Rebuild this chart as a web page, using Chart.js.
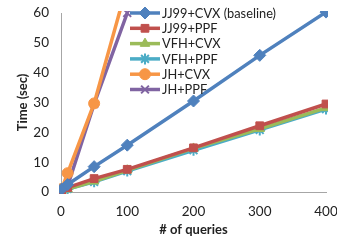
<!DOCTYPE html>
<html><head><meta charset="utf-8">
<script src="https://cdn.jsdelivr.net/npm/chart.js@4/dist/chart.umd.min.js"></script>
<style>html,body{margin:0;padding:0;background:#fff}#w{width:337px;height:243px}</style>
</head><body><div id="w"><canvas id="c" width="337" height="243"></canvas></div>
<script>
const queries = [1, 10, 50, 100, 200, 300, 400];
const seriesNames = ["JJ99+CVX (baseline)", "JJ99+PPF", "VFH+CVX", "VFH+PPF", "JH+CVX", "JH+PPF"];
const jj99Cvx = [1, 2.5, 8.5, 15.7, 30.5, 45.8, 60.3];
const jj99Ppf = [0.6, 1.5, 4.5, 7.6, 14.8, 22.2, 29.5];
const vfhCvx = [0.1, 1.0, 3.6, 7.3, 14.6, 21.2, 28.2];
const vfhPpf = [0.2, 1.0, 3.4, 7.0, 14.0, 20.8, 27.8];
const jhCvx = [1.0, 6.3, 29.7, 69.5];
const jhPpf = [0.3, 2.0, 29.5, 60.0];
const yTicks = [0, 10, 20, 30, 40, 50, 60];
const xTicks = [0, 100, 200, 300, 400];
const yTitle = "Time (sec)";
const xTitle = "# of queries";

const colors = ["#4F81BD", "#C0504D", "#9BBB59", "#4BACC6", "#F79646", "#8064A2"];
const styles = ["rectRot", "rect", "triangle", "star", "circle", "crossRot"];
const radii = [6, 5.5, 5.5, 5.5, 5.5, 5.5];
const values = [jj99Cvx, jj99Ppf, vfhCvx, vfhPpf, jhCvx, jhPpf];
const FONT = "Lato, 'Open Sans', sans-serif";

const datasets = values.map((v, i) => ({
  label: seriesNames[i],
  data: v.map((y, k) => ({x: queries[k], y: y})),
  borderColor: colors[i],
  backgroundColor: colors[i],
  borderWidth: 3.5,
  pointStyle: styles[i],
  pointRadius: radii[i],
  pointBorderWidth: (styles[i] === "star" || styles[i] === "crossRot") ? 2 : 1,
  pointBorderColor: colors[i],
  pointBackgroundColor: colors[i],
  tension: 0,
  clip: 2
}));

const legendPlugin = {
  id: "lineLegend",
  afterDraw(chart) {
    const ctx = chart.ctx;
    const x0 = 130, x1 = 160, y0 = 13, dy = 15.3;
    ctx.save();
    chart.data.datasets.forEach((ds, i) => {
      const y = y0 + i * dy;
      ctx.strokeStyle = ds.borderColor;
      ctx.lineWidth = 3.5;
      ctx.beginPath(); ctx.moveTo(x0, y); ctx.lineTo(x1, y); ctx.stroke();
      ctx.fillStyle = ds.backgroundColor;
      ctx.strokeStyle = ds.borderColor;
      ctx.lineWidth = ds.pointBorderWidth;
      Chart.helpers.drawPoint(ctx, {pointStyle: ds.pointStyle, radius: ds.pointRadius, rotation: 0, borderWidth: ds.pointBorderWidth}, (x0 + x1) / 2, y);
      ctx.fillStyle = "#222";
      ctx.font = "12.8px " + FONT;
      ctx.textBaseline = "middle";
      ctx.textAlign = "left";
      ctx.fillText(ds.label, x1 + 2, y + 0.5);
    });
    // y axis title
    const a = chart.chartArea;
    ctx.translate(23, (a.top + a.bottom) / 2);
    ctx.rotate(-Math.PI / 2);
    ctx.fillStyle = "#222";
    ctx.font = "bold 13px " + FONT;
    ctx.textAlign = "center";
    ctx.textBaseline = "middle";
    ctx.fillText(yTitle, 0, 0);
    ctx.restore();
  }
};

new Chart(document.getElementById("c"), {
  type: "line",
  data: {datasets},
  plugins: [legendPlugin],
  options: {
    responsive: false,
    animation: false,
    devicePixelRatio: 1,
    layout: {padding: {top: 13, right: 11, left: 0, bottom: 0}},
    plugins: {legend: {display: false}, tooltip: {enabled: false}},
    scales: {
      x: {
        type: "linear", min: 0, max: 400,
        afterBuildTicks: s => { s.ticks = xTicks.map(v => ({value: v})); },
        afterFit: s => { s.height = 51; s.paddingLeft = 0; s.paddingRight = 0; },
        grid: {display: false, drawTicks: false},
        border: {display: true, color: "#A6A6A6", width: 1},
        ticks: {color: "#222", font: {family: FONT, size: 13.5}, padding: 12, maxRotation: 0},
        title: {display: true, text: xTitle, color: "#222", font: {family: FONT, size: 13, weight: "bold"}, padding: {top: 2, bottom: 5}}
      },
      y: {
        min: 0, max: 60,
        afterBuildTicks: s => { s.ticks = yTicks.map(v => ({value: v})); },
        afterFit: s => { s.width = 61; s.paddingTop = 0; s.paddingBottom = 0; },
        grid: {display: false, drawTicks: false},
        border: {display: true, color: "#A6A6A6", width: 1},
        ticks: {color: "#222", font: {family: FONT, size: 13.5}, padding: 12},
        title: {display: false}
      }
    }
  }
});
</script></body></html>
